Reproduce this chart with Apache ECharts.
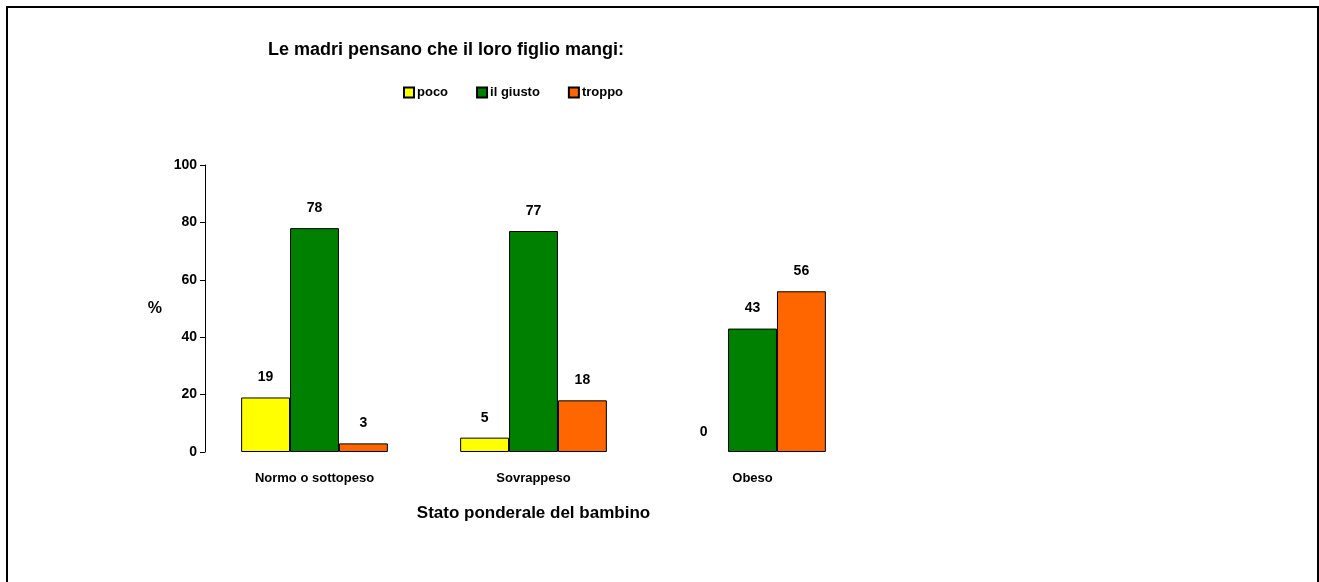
<!DOCTYPE html>
<html>
<head>
<meta charset="utf-8">
<script src="https://cdn.jsdelivr.net/npm/echarts@6/dist/echarts.min.js"></script>
<style>
html,body{margin:0;padding:0;background:#fff;}
#chart{width:1319px;height:582px;}
</style>
</head>
<body>
<div id="chart"></div>
<script>
const categories = ['Normo o sottopeso', 'Sovrappeso', 'Obeso'];
const seriesNames = ['poco', 'il giusto', 'troppo'];
const poco = [19, 5, 0];
const giusto = [78, 77, 43];
const troppo = [3, 18, 56];
const yTicks = [0, 20, 40, 60, 80, 100];
const colors = ['#FFFF00', '#008000', '#FF6600'];

const FONT = '"Liberation Sans", Arial, sans-serif';
const chart = echarts.init(document.getElementById('chart'));
const values = [poco, giusto, troppo];

chart.setOption({
  backgroundColor: '#ffffff',
  animation: false,
  textStyle: { fontFamily: FONT },
  graphic: [{
    type: 'rect',
    shape: { x: 7, y: 7, width: 1311, height: 590 },
    style: { fill: 'none', stroke: '#000', lineWidth: 2 },
    silent: true
  }],
  title: {
    text: 'Le madri pensano che il loro figlio mangi:',
    left: 441, top: 36, textAlign: 'center',
    textStyle: { fontFamily: FONT, fontSize: 18, fontWeight: 'bold', color: '#000' }
  },
  legend: {
    data: seriesNames,
    left: 398, top: 81,
    itemWidth: 10, itemHeight: 10, itemGap: 28,
    icon: 'rect',
    textStyle: { fontFamily: FONT, fontSize: 13, fontWeight: 'bold', color: '#000', padding: [0, 0, 0, -2] }
  },
  grid: { left: 205, right: 457, top: 165, bottom: 130 },
  xAxis: {
    type: 'category',
    data: categories,
    name: 'Stato ponderale del bambino',
    nameLocation: 'middle',
    nameGap: 53,
    nameTextStyle: { fontFamily: FONT, fontSize: 17, fontWeight: 'bold', color: '#000' },
    axisLine: { show: false },
    axisTick: { show: false },
    axisLabel: { margin: 20, fontFamily: FONT, fontSize: 13, fontWeight: 'bold', color: '#000' }
  },
  yAxis: {
    type: 'value',
    min: 0, max: 100, interval: 20,
    name: '%',
    nameLocation: 'middle',
    nameRotate: 0,
    nameGap: 43,
    nameTextStyle: { fontFamily: FONT, fontSize: 16, fontWeight: 'bold', color: '#000', padding: [0, 0, 20, 0] },
    axisLine: { show: true, lineStyle: { color: '#000', width: 1 } },
    axisTick: { show: true, length: 5, lineStyle: { color: '#000' } },
    splitLine: { show: false },
    axisLabel: {
      margin: 8, fontFamily: FONT, fontSize: 14, fontWeight: 'bold', color: '#000',
      formatter: v => yTicks.includes(v) ? String(v) : ''
    }
  },
  series: seriesNames.map((name, i) => ({
    name: name,
    type: 'bar',
    data: values[i].map(v => v === 0 ? { value: v, itemStyle: { borderWidth: 0 } } : v),
    barGap: '0%',
    barCategoryGap: '33%',
    itemStyle: { color: colors[i], borderColor: '#000', borderWidth: 1 },
    label: {
      show: true, position: 'top', distance: 13,
      fontFamily: FONT, fontSize: 14, fontWeight: 'bold', color: '#000'
    }
  }))
});
</script>
</body>
</html>
